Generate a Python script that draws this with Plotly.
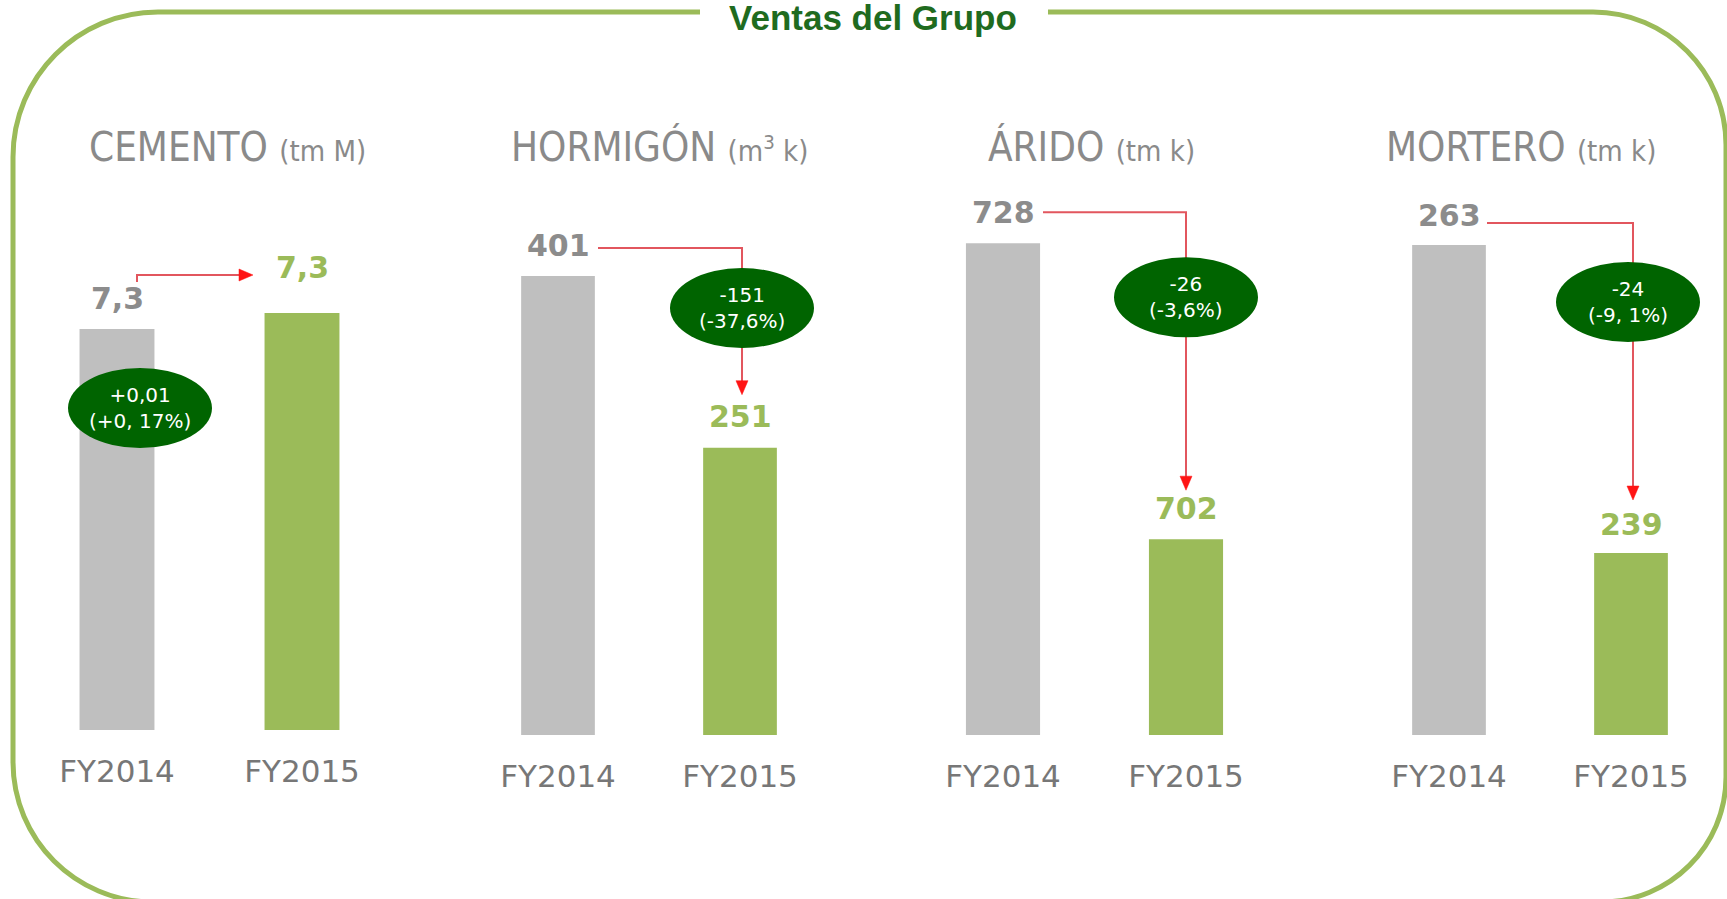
import plotly.graph_objects as go

# ---------------- data ----------------
segments = ["CEMENTO", "HORMIGÓN", "ÁRIDO", "MORTERO"]
units = ["(tm M)", "(m<sup>3</sup> k)", "(tm k)", "(tm k)"]
years = ["FY2014", "FY2015"]
sales_fy2014 = [7.30, 401, 728, 263]
sales_fy2015 = [7.31, 251, 702, 239]
labels_fy2014 = ["7,3", "401", "728", "263"]
labels_fy2015 = ["7,3", "251", "702", "239"]
change_abs = ["+0,01", "-151", "-26", "-24"]
change_pct = ["(+0, 17%)", "(-37,6%)", "(-3,6%)", "(-9, 1%)"]
chart_title = "Ventas del Grupo"

# ---------------- layout constants (pixels) ----------------
W, H = 1727, 899
CENTER = [209.5, 649, 1094.5, 1540]      # panel centre x
SPACING = [185, 182, 183, 182]           # px between the two bars
YBOT = [730, 735, 735, 735]              # plot bottom
YTOP = 160                               # plot top
BASE = [7.049375, 0.0, 684.8, 224.82]    # axis value at plot bottom
PPU = [1600.0, 1.14464, 11.3846, 12.833] # pixels per unit
BAR_W = 0.405
LABEL_SHIFT = [[31, 46], [31, 31], [31, 31], [30, 29]]
CONN = [(20, 47, 54, -49), (40, 28, 2, 53), (40, 31, 0, 49), (38, 22, 2, 53)]
ELL = [(0, 23, 79), (1, 2, 32), (1, 0, 54), (1, -3, 57)]
ELL_W, ELL_H = 144, 80
TITLE_X = [87, 509, 986, 1384]
TITLE_Y = 147

GRAY_BAR = "#bfbfbf"
GREEN = "#9bbb59"
GRAY_TXT = "#8c8c8c"
FY_TXT = "#777777"
HEAD_TXT = "#8a8a8a"
ELLIPSE = "#006400"
RED_LINE = "#e2565e"
RED_HEAD = "#ff1414"
TITLE_GREEN = "#1f6b1f"

NUM_FONT = "DejaVu Sans"
COND_FONT = "DejaVu Sans Condensed, Liberation Sans Narrow, DejaVu Sans"


def X(p):
    return p / W


def Y(p):
    return 1 - p / H


def P(x, y):
    return f"{X(x):.5f},{Y(y):.5f}"


def xpix(k, i):
    return CENTER[k] + (i - 0.5) * SPACING[k]


def ypix(k, v):
    return YBOT[k] - (v - BASE[k]) * PPU[k]


fig = go.Figure()
shapes = []
annotations = []

for k in range(4):
    sfx = "" if k == 0 else str(k + 1)
    fig.add_trace(go.Bar(
        x=years, y=[sales_fy2014[k], sales_fy2015[k]],
        marker=dict(color=[GRAY_BAR, GREEN], line=dict(width=0)),
        width=BAR_W, xaxis="x" + sfx, yaxis="y" + sfx,
        showlegend=False, hoverinfo="skip",
    ))
    span = (YBOT[k] - YTOP) / PPU[k]
    fig.layout["xaxis" + sfx] = dict(
        domain=[X(CENTER[k] - SPACING[k]), X(CENTER[k] + SPACING[k])],
        type="category", categoryarray=years, range=[-0.5, 1.5],
        showgrid=False, zeroline=False, showline=False, ticks="",
        tickfont=dict(family="DejaVu Sans", size=31, color=FY_TXT),
        ticklabelstandoff=20, fixedrange=True,
        anchor="y" + sfx,
    )
    fig.layout["yaxis" + sfx] = dict(
        domain=[Y(YBOT[k]), Y(YTOP)],
        range=[BASE[k], BASE[k] + span],
        visible=False, fixedrange=True, anchor="x" + sfx,
    )

    # value labels
    for i, (val, lab, col) in enumerate([
            (sales_fy2014[k], labels_fy2014[k], GRAY_TXT),
            (sales_fy2015[k], labels_fy2015[k], GREEN)]):
        annotations.append(dict(
            x=years[i], y=val, xref="x" + sfx, yref="y" + sfx,
            text=f"<b>{lab}</b>", showarrow=False, yanchor="middle",
            yshift=LABEL_SHIFT[k][i],
            font=dict(family=NUM_FONT, size=30, color=col),
        ))

    # panel title
    annotations.append(dict(
        x=X(TITLE_X[k]), y=Y(TITLE_Y), xref="paper", yref="paper",
        xanchor="left", yanchor="middle", showarrow=False,
        text=f"{segments[k]} <span style='font-size:29px'>{units[k]}</span>",
        font=dict(family=COND_FONT, size=40, color=HEAD_TXT),
    ))

    # connector arrows
    xg, xgr = xpix(k, 0), xpix(k, 1)
    yg, ygr = ypix(k, sales_fy2014[k]), ypix(k, sales_fy2015[k])
    a, b, c, d = CONN[k]
    if k == 0:
        x0, ys, yh, tip = xg + a, yg - b, yg - c, xgr + d
        shapes.append(dict(type="path", xref="paper", yref="paper",
                           path=f"M {P(x0, ys)} L {P(x0, yh)} L {P(tip - 12, yh)}",
                           line=dict(color=RED_LINE, width=2)))
        shapes.append(dict(type="path", xref="paper", yref="paper",
                           path=f"M {P(tip, yh)} L {P(tip - 14, yh - 6)} L {P(tip - 14, yh + 6)} Z",
                           fillcolor=RED_HEAD, line=dict(color=RED_HEAD, width=0.5)))
    else:
        x0, yh, xv, ytip = xg + a, yg - b, xgr + c, ygr - d
        shapes.append(dict(type="path", xref="paper", yref="paper",
                           path=f"M {P(x0, yh)} L {P(xv, yh)} L {P(xv, ytip - 12)}",
                           line=dict(color=RED_LINE, width=2)))
        shapes.append(dict(type="path", xref="paper", yref="paper",
                           path=f"M {P(xv, ytip)} L {P(xv - 6, ytip - 14)} L {P(xv + 6, ytip - 14)} Z",
                           fillcolor=RED_HEAD, line=dict(color=RED_HEAD, width=0.5)))

    # ellipse with change
    ci, dx, dy = ELL[k]
    ex, ey = xpix(k, ci) + dx, yg + dy
    shapes.append(dict(type="circle", xref="paper", yref="paper",
                       x0=X(ex - ELL_W / 2), x1=X(ex + ELL_W / 2),
                       y0=Y(ey + ELL_H / 2), y1=Y(ey - ELL_H / 2),
                       fillcolor=ELLIPSE, line=dict(width=0)))
    annotations.append(dict(
        x=X(ex), y=Y(ey), xref="paper", yref="paper", showarrow=False,
        xanchor="center", yanchor="middle",
        text=f"{change_abs[k]}<br>{change_pct[k]}",
        font=dict(family="DejaVu Sans", size=20, color="#ffffff"),
    ))

# rounded frame with a gap for the title
K = 0.5523
L, T, R, B = 13, 12, 1726, 902
rTL, rTR, rBR, rBL = 145, 133, 125, 140
frame = (
    f"M {P(700, T)} L {P(L + rTL, T)} "
    f"C {P(L + rTL - K * rTL, T)} {P(L, T + rTL - K * rTL)} {P(L, T + rTL)} "
    f"L {P(L, B - rBL)} "
    f"C {P(L, B - rBL + K * rBL)} {P(L + rBL - K * rBL, B)} {P(L + rBL, B)} "
    f"L {P(R - rBR, B)} "
    f"C {P(R - rBR + K * rBR, B)} {P(R, B - rBR + K * rBR)} {P(R, B - rBR)} "
    f"L {P(R, T + rTR)} "
    f"C {P(R, T + rTR - K * rTR)} {P(R - rTR + K * rTR, T)} {P(R - rTR, T)} "
    f"L {P(1048, T)}"
)
shapes.insert(0, dict(type="path", xref="paper", yref="paper", path=frame,
                      line=dict(color=GREEN, width=5)))

annotations.append(dict(
    x=X(873), y=Y(17), xref="paper", yref="paper", showarrow=False,
    xanchor="center", yanchor="middle", text=f"<b>{chart_title}</b>",
    font=dict(family="Liberation Sans, Arial", size=35, color=TITLE_GREEN),
))

fig.update_layout(
    width=W, height=H, margin=dict(l=0, r=0, t=0, b=0),
    paper_bgcolor="white", plot_bgcolor="white",
    shapes=shapes, annotations=annotations, showlegend=False,
)

fig.write_html(
    "out.html",
    config={"displayModeBar": False},
    post_script="document.body.style.margin='0';document.body.style.overflow='hidden';",
)
